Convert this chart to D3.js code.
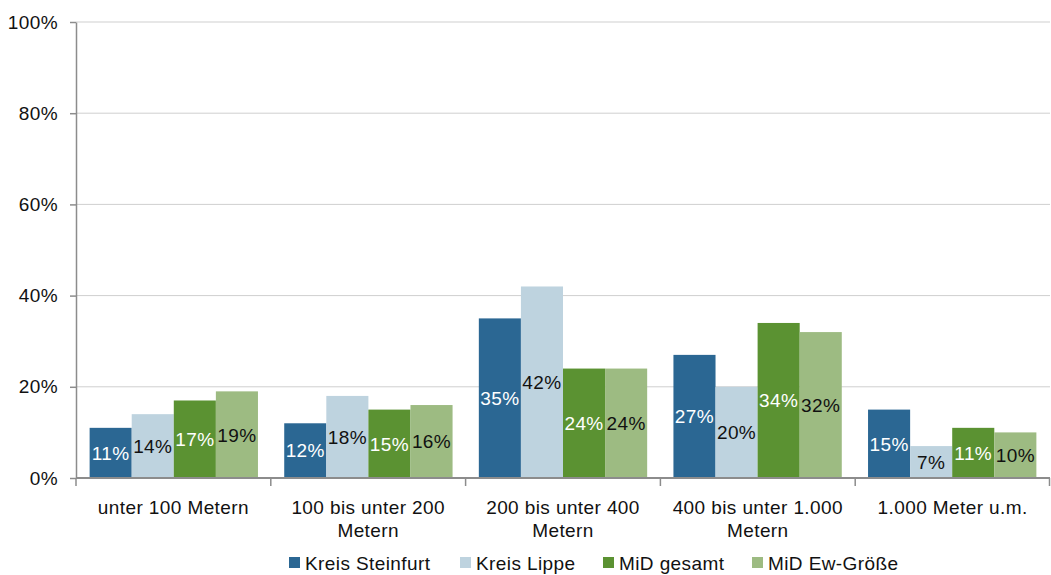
<!DOCTYPE html>
<html>
<head>
<meta charset="utf-8">
<script src="https://cdn.jsdelivr.net/npm/d3@7"></script>
<style>
  html, body { margin: 0; padding: 0; background: #fff; }
  svg { display: block; font-family: "Liberation Sans", Arial, sans-serif; }
  text { letter-spacing: 0.4px; }
</style>
</head>
<body>
<svg id="chart" width="1051" height="575"></svg>
<script>
// Distance classes (height above sea level)
const categories = [
  ["unter 100 Metern"],
  ["100 bis unter 200", "Metern"],
  ["200 bis unter 400", "Metern"],
  ["400 bis unter 1.000", "Metern"],
  ["1.000 Meter u.m."]
];
const seriesNames = ["Kreis Steinfurt", "Kreis Lippe", "MiD gesamt", "MiD Ew-Größe"];
const steinfurt = [11, 12, 35, 27, 15];
const lippe = [14, 18, 42, 20, 7];
const midGesamt = [17, 15, 24, 34, 11];
const midEw = [19, 16, 24, 32, 10];
const yTicks = [0, 20, 40, 60, 80, 100];

const colors = ["#2b6793", "#bed3df", "#5b9232", "#9dbb82"];
const labelColors = ["#fff", "#111", "#fff", "#111"];
const seriesValues = [steinfurt, lippe, midGesamt, midEw];
const FS = 19;

const svg = d3.select("#chart");
const margin = { left: 76, right: 1, top: 22, bottom: 97 };
const W = 1051, H = 575;
const plotW = W - margin.left - margin.right;
const plotH = H - margin.top - margin.bottom;

const g = svg.append("g").attr("transform", `translate(${margin.left},${margin.top})`);

const x0 = d3.scaleBand().domain(d3.range(categories.length)).range([0, plotW]).paddingInner(0.135).paddingOuter(0.07);
const x1 = d3.scaleBand().domain(d3.range(seriesNames.length)).range([0, x0.bandwidth()]);
const y = d3.scaleLinear().domain([0, 100]).range([plotH, 0]);

// horizontal gridlines
g.append("g").selectAll("line").data(yTicks.slice(1)).join("line")
  .attr("x1", 0).attr("x2", plotW)
  .attr("y1", d => y(d)).attr("y2", d => y(d))
  .attr("stroke", "#cfcfcf").attr("stroke-width", 1);

// y axis
const yAxis = g.append("g")
  .call(d3.axisLeft(y).tickValues(yTicks).tickFormat(d => d + "%").tickSize(6).tickSizeOuter(0));
yAxis.attr("font-size", null).attr("font-family", null);
yAxis.select(".domain").attr("stroke", "#8c8c8c").attr("stroke-width", 1.5);
yAxis.selectAll(".tick line").attr("stroke", "#8c8c8c").attr("stroke-width", 1.5);
yAxis.selectAll(".tick text").attr("font-size", FS).attr("fill", "#111").attr("x", -18);

// bars
const rows = [];
categories.forEach((c, i) => seriesValues.forEach((vals, s) => rows.push({ i, s, v: vals[i] })));

const bars = g.append("g");
bars.selectAll("rect").data(rows).join("rect")
  .attr("x", d => x0(d.i) + x1(d.s))
  .attr("width", x1.bandwidth())
  .attr("y", d => y(d.v))
  .attr("height", d => y(0) - y(d.v))
  .attr("fill", d => colors[d.s]);

bars.selectAll("text").data(rows).join("text")
  .attr("x", d => x0(d.i) + x1(d.s) + x1.bandwidth() / 2)
  .attr("y", d => (y(d.v) + y(0)) / 2)
  .attr("dy", "0.36em")
  .attr("text-anchor", "middle")
  .attr("font-size", FS)
  .attr("fill", d => labelColors[d.s])
  .text(d => d.v + "%");

// x axis with category dividers
const xAxisG = g.append("g").attr("transform", `translate(0,${plotH})`);
xAxisG.append("line").attr("x1", 0).attr("x2", plotW).attr("y1", 0).attr("y2", 0)
  .attr("stroke", "#8c8c8c").attr("stroke-width", 2);
const bounds = d3.range(categories.length + 1).map(k => Math.min(k * plotW / categories.length, plotW - 0.5));
xAxisG.selectAll("line.div").data(bounds).join("line").attr("class", "div")
  .attr("x1", d => d).attr("x2", d => d).attr("y1", 0).attr("y2", 8)
  .attr("stroke", "#8c8c8c").attr("stroke-width", 1.5);

xAxisG.selectAll("text.cat").data(categories).join("text").attr("class", "cat")
  .attr("x", (d, i) => (i + 0.5) * plotW / categories.length)
  .attr("y", 36)
  .attr("text-anchor", "middle")
  .attr("font-size", FS)
  .attr("fill", "#111")
  .each(function (lines) {
    const t = d3.select(this);
    lines.forEach((ln, k) => t.append("tspan")
      .attr("x", t.attr("x")).attr("dy", k === 0 ? 0 : 23).text(ln));
  });

// legend
const legendX = [289, 460, 603, 752];
const legend = svg.append("g").attr("transform", "translate(0,563)");
const items = legend.selectAll("g").data(seriesNames).join("g")
  .attr("transform", (d, i) => `translate(${legendX[i]},0)`);
items.append("rect").attr("x", 0).attr("y", -6).attr("width", 11).attr("height", 11)
  .attr("fill", (d, i) => colors[i]);
items.append("text").attr("x", 16).attr("y", 0).attr("dy", "0.36em")
  .attr("font-size", FS).attr("fill", "#111").text(d => d);
</script>
</body>
</html>
